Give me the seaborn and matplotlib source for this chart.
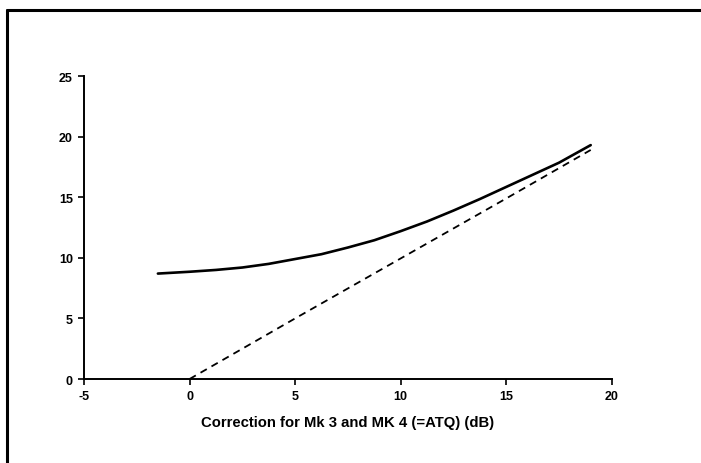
import numpy as np
import pandas as pd
import matplotlib
matplotlib.use("Agg")
import matplotlib.pyplot as plt
import seaborn as sns

# ==========================
# Data
# ==========================

curve_x = [-1.5, 0, 1.25, 2.5, 3.75, 5, 6.25, 7.5, 8.75, 10, 11.25, 12.5, 13.75, 15, 16.25, 17.5, 19]
curve_y = [8.7, 8.85, 9.0, 9.2, 9.5, 9.9, 10.3, 10.85, 11.45, 12.2, 13.0, 13.9, 14.85, 15.85, 16.85, 17.85, 19.3]

diag_x = [0, 5, 10, 15, 19]
diag_y = [0, 5, 9.95, 14.9, 18.9]

x_ticks = [-5, 0, 5, 10, 15, 20]
y_ticks = [0, 5, 10, 15, 20, 25]

x_label = "Correction for Mk 3 and MK 4 (=ATQ) (dB)"

# ==========================
# Plot
# ==========================

sns.set_style("white")
plt.rcParams["font.family"] = ["Liberation Sans", "DejaVu Sans"]
plt.rcParams["axes.unicode_minus"] = False
plt.rcParams["text.color"] = "black"
plt.rcParams["xtick.color"] = "black"
plt.rcParams["ytick.color"] = "black"
plt.rcParams["axes.labelcolor"] = "black"

fig = plt.figure(figsize=(7.01, 4.64), dpi=100)
ax = fig.add_axes([0.1198, 0.181, 0.753, 0.653])

curve = pd.DataFrame({"x": curve_x, "y": curve_y})
diag = pd.DataFrame({"x": diag_x, "y": diag_y})

sns.lineplot(data=curve, x="x", y="y", ax=ax, color="black", linewidth=1.9)
sns.lineplot(data=diag, x="x", y="y", ax=ax, color="black", linewidth=1.3,
             dashes=False, linestyle=(0, (4, 3)))

ax.set_xlim(-5, 20)
ax.set_ylim(0, 25)
ax.set_xticks(x_ticks)
ax.set_yticks(y_ticks)
ax.set_xlabel(x_label, fontsize=10.7, fontweight="bold", labelpad=9)
ax.set_ylabel("")

for side in ["top", "right"]:
    ax.spines[side].set_visible(False)
for side in ["left", "bottom"]:
    ax.spines[side].set_color("black")
    ax.spines[side].set_linewidth(1.4)

ax.tick_params(axis="both", direction="out", length=4, width=1.2,
               color="black", labelsize=9, pad=4, bottom=True, left=True)
for lab in ax.get_xticklabels() + ax.get_yticklabels():
    lab.set_fontweight("bold")

# outer frame (top and left edges only)
fig.add_artist(plt.Line2D([0.010, 1.0], [1 - 11 / 464, 1 - 11 / 464],
                          transform=fig.transFigure, color="black", linewidth=2.2))
fig.add_artist(plt.Line2D([0.010, 0.010], [0, 1 - 11 / 464],
                          transform=fig.transFigure, color="black", linewidth=2.2))

fig.savefig("out.png", dpi=100)
